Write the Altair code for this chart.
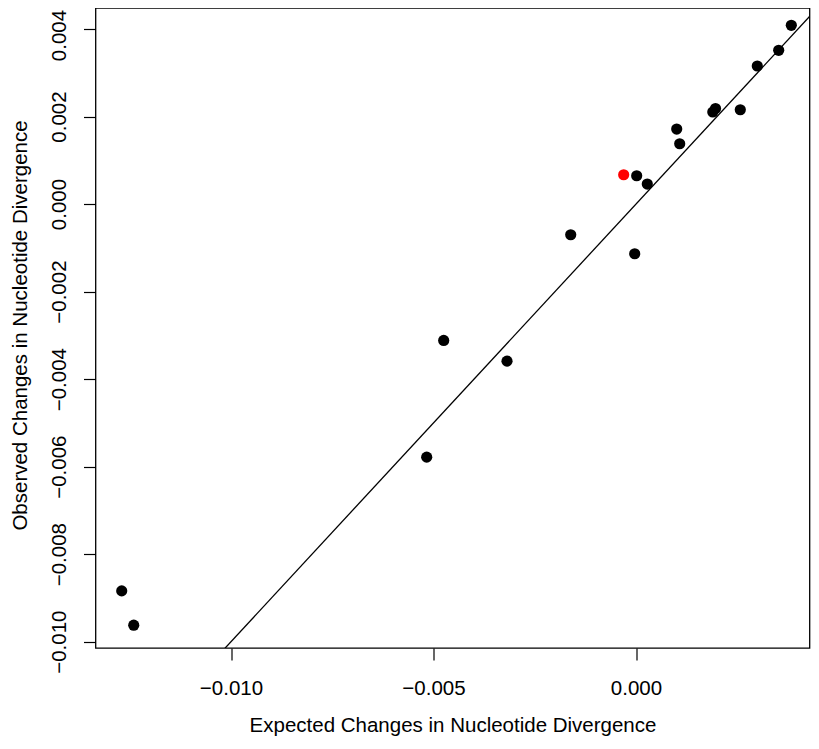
import altair as alt
import pandas as pd

# Data
expected = [-0.012699, -0.012402, -0.005168, -0.004748, -0.003185, -0.001612,
            0.003835, 0.003523, 0.002995, 0.001896, 0.001963, 0.002575,
            0.001005, 0.001079, -0.000304, 0.000017, 0.000279, -0.000032]
observed = [-0.008839, -0.009623, -0.005783, -0.003116, -0.003589, -0.000701,
            0.004085, 0.003513, 0.003154, 0.002103, 0.002183, 0.002155,
            0.001714, 0.001378, 0.000670, 0.000647, 0.000457, -0.001136]
group = ["other"] * 14 + ["highlight"] + ["other"] * 3

line_x = [-0.0106, 0.0047]
line_y = [-0.0106, 0.0047]

x_ticks = [-0.010, -0.005, 0.000]
y_ticks = [-0.010, -0.008, -0.006, -0.004, -0.002, 0.000, 0.002, 0.004]

x_domain = [-0.013346, 0.004284]
y_domain = [-0.010144, 0.00448]

FONT = "Liberation Sans"
FS = 20.5

pts = pd.DataFrame({"expected": expected, "observed": observed, "group": group})
ln = pd.DataFrame({"expected": line_x, "observed": line_y})

xscale = alt.Scale(domain=x_domain, nice=False, zero=False)
yscale = alt.Scale(domain=y_domain, nice=False, zero=False)

x_axis = alt.Axis(values=x_ticks, format=".3f", grid=False, domain=False,
                  tickSize=12, tickColor="black", tickWidth=1.2,
                  labelFont=FONT, labelFontSize=FS, labelColor="black",
                  labelBaseline="alphabetic", labelPadding=34.5, labelFlush=False,
                  title="Expected Changes in Nucleotide Divergence",
                  titleFont=FONT, titleFontSize=FS, titleFontWeight="normal",
                  titleColor="black", titleBaseline="alphabetic", titleY=83)
y_axis = alt.Axis(values=y_ticks, format=".3f", grid=False, domain=False,
                  tickSize=12, tickColor="black", tickWidth=1.2,
                  labelFont=FONT, labelFontSize=FS, labelColor="black",
                  labelAngle=-90, labelAlign="center", labelBaseline="alphabetic",
                  labelPadding=18.5, labelFlush=False,
                  labelOffset={"condition": {"test": "datum.value > 0.0035", "value": 6},
                               "value": 0},
                  title="Observed Changes in Nucleotide Divergence",
                  titleFont=FONT, titleFontSize=FS, titleFontWeight="normal",
                  titleColor="black", titleAngle=-90, titleAlign="center",
                  titleBaseline="alphabetic", titleX=-69, titleY=317)

line = alt.Chart(ln).mark_line(color="black", strokeWidth=1.3, clip=True).encode(
    x=alt.X("expected:Q", scale=xscale, axis=x_axis),
    y=alt.Y("observed:Q", scale=yscale, axis=y_axis),
)

points = alt.Chart(pts).mark_circle(size=125, opacity=1).encode(
    x=alt.X("expected:Q", scale=xscale),
    y=alt.Y("observed:Q", scale=yscale),
    color=alt.Color("group:N", scale=alt.Scale(domain=["other", "highlight"],
                                               range=["#000000", "#FF0000"]),
                    legend=None),
    order=alt.Order("group:N", sort="descending"),
)

chart = alt.layer(line, points).properties(
    width=714, height=640,
    background="white",
    autosize=alt.AutoSizeParams(type="none"),
    padding={"left": 87.5, "top": 0, "right": 1.5, "bottom": 88},
).configure_view(stroke="black", strokeWidth=1.3)

chart.save("out.html", embed_options={"renderer": "svg", "actions": False})
